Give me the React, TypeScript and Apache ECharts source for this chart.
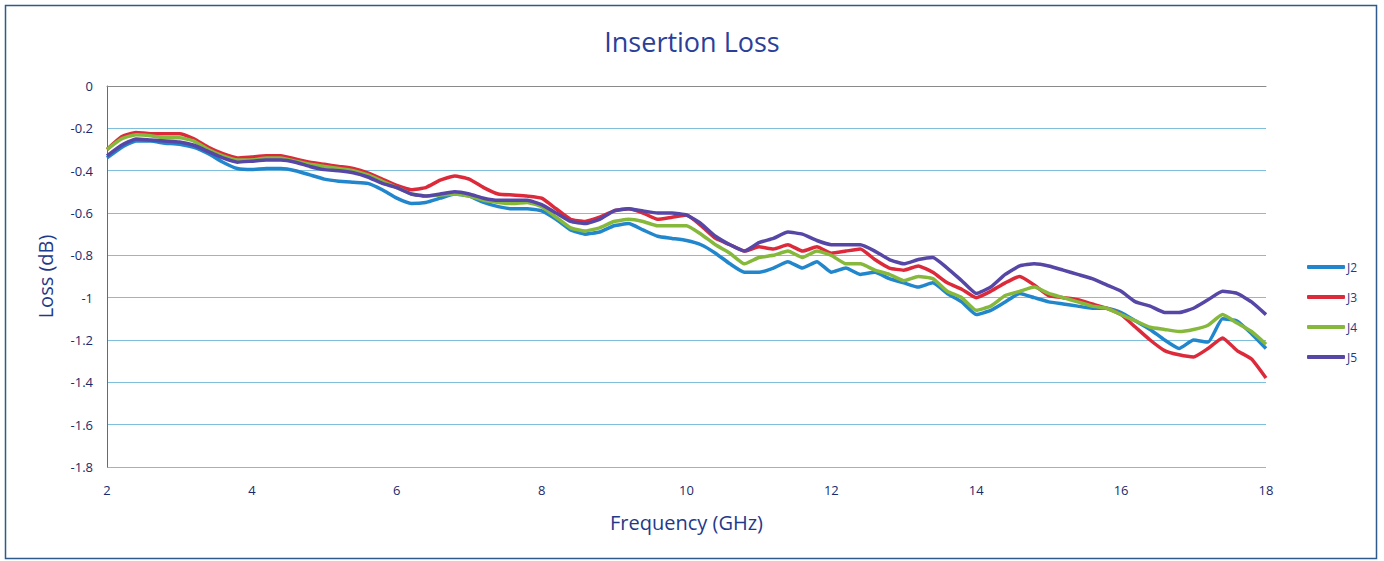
import React, { useEffect, useRef } from "react";
import * as echarts from "echarts";

const freqs: number[] = [
  2.0, 2.2, 2.4, 2.6, 2.8, 3.0, 3.2, 3.4, 3.6, 3.8,
  4.0, 4.2, 4.4, 4.6, 4.8, 5.0, 5.2, 5.4, 5.6, 5.8,
  6.0, 6.2, 6.4, 6.6, 6.8, 7.0, 7.2, 7.4, 7.6, 7.8,
  8.0, 8.2, 8.4, 8.6, 8.8, 9.0, 9.2, 9.4, 9.6, 9.8,
  10.0, 10.2, 10.4, 10.6, 10.8, 11.0, 11.2, 11.4, 11.6, 11.8,
  12.0, 12.2, 12.4, 12.6, 12.8, 13.0, 13.2, 13.4, 13.6, 13.8,
  14.0, 14.2, 14.4, 14.6, 14.8, 15.0, 15.2, 15.4, 15.6, 15.8,
  16.0, 16.2, 16.4, 16.6, 16.8, 17.0, 17.2, 17.4, 17.6, 17.8, 18.0,
];

const j2: number[] = [
  -0.34, -0.29, -0.26, -0.26, -0.27, -0.275, -0.29, -0.32, -0.36, -0.39,
  -0.395, -0.39, -0.39, -0.4, -0.42, -0.44, -0.45, -0.455, -0.46, -0.49,
  -0.53, -0.555, -0.55, -0.53, -0.51, -0.52, -0.55, -0.57, -0.58, -0.58,
  -0.59, -0.63, -0.68, -0.7, -0.69, -0.66, -0.65, -0.68, -0.71, -0.72,
  -0.73, -0.75, -0.79, -0.84, -0.88, -0.88, -0.86, -0.83, -0.86, -0.83,
  -0.88, -0.86, -0.89, -0.88, -0.91, -0.93, -0.95, -0.93, -0.98, -1.02,
  -1.08, -1.06, -1.02, -0.98, -1.0, -1.02, -1.03, -1.04, -1.05, -1.05,
  -1.07, -1.11, -1.15, -1.2, -1.24, -1.2, -1.21, -1.1, -1.11, -1.17, -1.24,
];

const j3: number[] = [
  -0.3, -0.24, -0.22, -0.225, -0.225, -0.225, -0.25, -0.29, -0.32, -0.34,
  -0.335, -0.33, -0.33, -0.345, -0.36, -0.37, -0.38, -0.39, -0.41, -0.44,
  -0.47, -0.49, -0.48, -0.445, -0.425, -0.44, -0.48, -0.51, -0.515, -0.52,
  -0.53, -0.58, -0.63, -0.64, -0.62, -0.59, -0.58, -0.6, -0.63, -0.62,
  -0.61, -0.66, -0.72, -0.75, -0.78, -0.76, -0.77, -0.75, -0.78, -0.76,
  -0.79, -0.78, -0.77, -0.82, -0.86, -0.87, -0.85, -0.88, -0.93, -0.96,
  -1.0, -0.97, -0.93, -0.9, -0.94, -0.99, -1.0, -1.01, -1.03, -1.05,
  -1.08, -1.14, -1.2, -1.25, -1.27, -1.28, -1.24, -1.19, -1.25, -1.29, -1.38,
];

const j4: number[] = [
  -0.3, -0.25, -0.23, -0.235, -0.245, -0.245, -0.26, -0.3, -0.33, -0.35,
  -0.35, -0.34, -0.34, -0.355, -0.37, -0.38, -0.39, -0.4, -0.42, -0.45,
  -0.48, -0.51, -0.52, -0.515, -0.51, -0.52, -0.54, -0.55, -0.555, -0.55,
  -0.57, -0.62, -0.67, -0.685, -0.67, -0.64, -0.63, -0.64, -0.66, -0.66,
  -0.66, -0.7, -0.75, -0.79, -0.84, -0.81, -0.8, -0.78, -0.81, -0.78,
  -0.8, -0.84, -0.84, -0.87, -0.89, -0.92, -0.9, -0.91, -0.97, -1.0,
  -1.06, -1.04, -0.99, -0.97, -0.95, -0.98, -1.0, -1.02, -1.04, -1.05,
  -1.08, -1.11, -1.14, -1.15, -1.16, -1.15, -1.13, -1.08, -1.12, -1.16, -1.22,
];

const j5: number[] = [
  -0.33, -0.28, -0.25, -0.255, -0.26, -0.265, -0.28, -0.31, -0.34, -0.36,
  -0.355, -0.35, -0.35, -0.36, -0.38, -0.395, -0.4, -0.41, -0.43, -0.46,
  -0.48, -0.51, -0.52, -0.51, -0.5, -0.51, -0.53, -0.54, -0.54, -0.54,
  -0.56, -0.6, -0.64, -0.65, -0.63, -0.59, -0.58, -0.59, -0.6, -0.6,
  -0.61, -0.65, -0.71, -0.75, -0.78, -0.74, -0.72, -0.69, -0.7, -0.73,
  -0.75, -0.75, -0.75, -0.78, -0.82, -0.84, -0.82, -0.81, -0.86, -0.92,
  -0.98, -0.95, -0.89, -0.85, -0.84, -0.85, -0.87, -0.89, -0.91, -0.94,
  -0.97, -1.02, -1.04, -1.07, -1.07, -1.05, -1.01, -0.97, -0.98, -1.02, -1.08,
];

const seriesNames: string[] = ["J2", "J3", "J4", "J5"];
const seriesColors: string[] = ["#2186cc", "#dc2a3a", "#86b83c", "#5646a6"];
const seriesValues: number[][] = [j2, j3, j4, j5];

export default function App() {
  const ref = useRef<HTMLDivElement>(null);
  useEffect(() => {
    if (!ref.current) return;
    const chart = echarts.init(ref.current, undefined, { renderer: "svg" });
    const axisText = "#1f3a8a";
    chart.setOption({
      animation: false,
      backgroundColor: "#ffffff",
      title: {
        text: "Insertion Loss",
        left: "center",
        top: 23,
        textStyle: {
          color: "#2b3f98",
          fontSize: 27,
          fontWeight: "normal",
          fontFamily: "Open Sans",
        },
      },
      graphic: [
        {
          type: "rect",
          shape: { x: 5.5, y: 5.5, width: 1371, height: 553 },
          style: { fill: "none", stroke: "#2e5a8c", lineWidth: 1.5 },
          silent: true,
        },
      ],
      legend: {
        orient: "vertical",
        left: 1302,
        top: 256,
        itemWidth: 38,
        itemHeight: 4,
        itemGap: 18,
        icon: "roundRect",
        textStyle: { color: axisText, fontSize: 12, fontFamily: "Open Sans", padding: [0, 0, 0, -3] },
        data: seriesNames,
      },
      grid: { left: 107, right: 118, top: 86, bottom: 94 },
      xAxis: {
        type: "value",
        min: 2,
        max: 18,
        interval: 2,
        name: "Frequency (GHz)",
        nameLocation: "middle",
        nameGap: 45,
        nameTextStyle: { color: axisText, fontSize: 20, fontFamily: "Open Sans" },
        axisLine: { lineStyle: { color: "#8a8a8a", width: 1 } },
        axisTick: { show: false },
        axisLabel: { color: "#1a2a6a", fontSize: 13, margin: 16, fontFamily: "Open Sans" },
        splitLine: { show: false },
      },
      yAxis: {
        type: "value",
        min: -1.8,
        max: 0,
        interval: 0.2,
        name: "Loss (dB)",
        nameLocation: "middle",
        nameGap: 52,
        nameTextStyle: { color: axisText, fontSize: 20, fontFamily: "Open Sans" },
        axisLine: { show: true, lineStyle: { color: "#6a6a6a", width: 1 } },
        axisTick: { show: false },
        axisLabel: {
          color: "#1a2a6a",
          fontSize: 13,
          margin: 14,
          fontFamily: "Open Sans",
          formatter: (v: number) => String(Number(v.toFixed(1))),
        },
        splitLine: { lineStyle: { color: "#7fbfdc", width: 1 } },
      },
      series: seriesNames.map((name, i) => ({
        name,
        type: "line",
        showSymbol: false,
        symbol: "none",
        smooth: 0.15,
        color: seriesColors[i],
        lineStyle: { width: 3.5, color: seriesColors[i] },
        data: freqs.map((f, k) => [f, seriesValues[i][k]]),
      })),
    });
    return () => chart.dispose();
  }, []);
  return (
    <div
      ref={ref}
      style={{ position: "absolute", left: 0, top: 0, width: 1384, height: 561 }}
    />
  );
}
